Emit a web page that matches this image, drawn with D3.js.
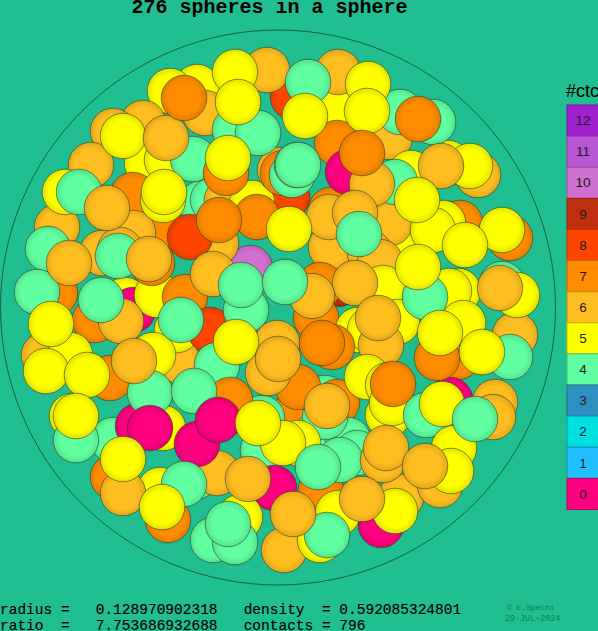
<!DOCTYPE html>
<html><head><meta charset="utf-8"><script src="https://cdn.jsdelivr.net/npm/d3@7"></script>
<style>html,body{margin:0;padding:0;background:#20be90;overflow:hidden}svg{display:block}</style></head>
<body><svg id="c" width="598" height="631"></svg>
<script>
const titleText="276 spheres in a sphere";
const footerLines=["radius =   0.128970902318   density  = 0.592085324801","ratio  =   7.753686932688   contacts = 796"];
const creditLines=["© E.Specht","29-JUL-2024"];
const legendTitle="#ctc";
const contactLevels=[12,11,10,9,8,7,6,5,4,3,2,1,0];
const contactColors=["#a020d0","#ba55d3","#d070d0","#c03010","#ff4500","#ff8c00","#ffbe20","#ffff00","#60ffa0","#2e90c0","#00e0e0","#20bfff","#ff0080"];
// rows: x, y, contacts -- ordered far to near
const backLayer=[
[338,284,9],[250,268,10],[287,197,8],[293,97,8],[335,107,5],[197,87,5],[170,91,5],[267,70,6],[338,72,6],[205,113,6],[143,123,6],[235,130,4],
[113,131,6],[390,137,6],[448,163,5],[411,173,5],[478,175,6],[147,163,5],[167,160,5],[91,165,6],[133,195,7],[57,227,6],[65,192,5],
[163,230,7],[133,233,6],[102,253,6],[120,250,6],[202,203,4],[213,200,4],[227,200,6],[252,203,5],[280,170,6],[283,173,7],[331,210,7],
[460,223,7],[443,223,5],[510,238,7],[400,253,5],[390,223,6],[331,247,6],[370,253,6],[380,262,6],[458,291,5],[449,291,5],[502,284,4],[320,285,7],[383,288,5],
[55,293,7],[95,320,7],[125,300,5],[133,310,0],[157,295,5],[185,297,7],[44,355,6],[70,355,5],[316,318,7],[358,330,5],[370,330,5],[397,322,5],
[515,335,6],[458,357,7],[463,323,5],[177,360,6],[325,398,4],[337,402,7],[297,410,7],[298,387,7],[72,416,5],[113,440,4],[138,426,0],[163,428,5],[318,433,4],[348,440,4],[263,450,4],[262,418,4],
[113,477,7],[160,490,5],[195,477,4],[217,473,6],[274,488,0],[168,520,7],[240,517,5],[213,540,4],[235,542,4],[284,550,6],[320,540,5],[321,490,7],[357,453,4],[338,513,5],[401,497,6],[440,485,6],[381,525,0],[450,400,0],[495,402,6]
];
const midLayer=[
[193,159,4],[258,133,4],[226,173,7],[292,175,4],[297,165,4],[337,143,7],[348,172,0],[395,182,4],[372,184,6],[400,112,4],[433,122,4],[308,82,4],[235,72,5],[368,84,5],
[433,230,5],[329,217,6],[355,213,6],[216,243,6],[190,237,8],[257,217,7],[163,200,5],[152,263,7],[48,249,4],[37,292,4],[118,256,4],[149,259,6],[79,192,4],[164,192,5],
[425,297,4],[517,295,5],[332,347,7],[355,283,6],[381,345,6],[437,358,7],[510,357,4],[213,274,6],[177,330,5],[210,330,8],[121,321,6],
[217,365,4],[246,310,4],[277,343,6],[268,373,6],[110,378,7],[153,355,5],[150,393,4],[230,400,7],[194,391,4],[367,377,5],[388,385,5],[388,415,5],[392,403,5],[426,415,4],[325,417,4],[298,443,5],[340,460,4],
[493,417,6],[454,448,5],[451,471,5],[383,460,6],[76,440,4],[197,444,0],[218,420,0],[283,443,5],[184,484,4],[123,493,6],[228,524,4],[327,535,4],[395,511,5]
];
const frontLayer=[
[107,208,6],[69,263,6],[123,136,5],[166,138,6],[184,98,7],[238,102,5],[305,116,5],[367,111,5],[418,119,7],[362,153,7],[228,158,5],[298,165,4],[470,166,5],[441,166,6],[417,200,5],
[219,220,7],[289,229,5],[359,234,4],[502,230,5],[465,245,5],[418,267,5],[500,288,6],[312,296,6],[241,285,4],[285,282,4],[101,300,4],[181,320,4],[51,324,5],[236,342,5],[378,318,6],[440,333,5],[482,352,5],
[322,343,7],[278,359,6],[46,371,5],[87,375,5],[134,361,6],[76,416,5],[150,428,0],[258,423,5],[393,384,7],[442,404,5],[475,419,4],[327,406,6],[386,448,6],[425,466,6],[318,467,4],[123,459,5],
[248,479,6],[162,507,5],[293,514,6],[362,499,6]
];
const spheres=[...backLayer,...midLayer,...frontLayer];

const svg=d3.select("#c");
const x=d3.scaleLinear().domain([0,556]).range([0,556]);
const y=d3.scaleLinear().domain([30,585]).range([30,585]);
const rScale=d3.scaleLinear().domain([0,277.5]).range([0,277.5]);
const color=d3.scaleOrdinal(contactLevels,contactColors);
const rowY=d3.scaleBand().domain(contactLevels).range([105,509.5]);
const sphereR=22.8;

svg.append("rect").attr("width",598).attr("height",631).attr("fill","#20be90");
const defs=svg.append("defs");
contactLevels.forEach(c=>{
  const g=defs.append("radialGradient").attr("id","g"+c).attr("cx","50%").attr("cy","50%").attr("r","50%");
  const base=d3.color(color(c));
  g.append("stop").attr("offset","0%").attr("stop-color",base.formatHex());
  g.append("stop").attr("offset","70%").attr("stop-color",base.formatHex());
  g.append("stop").attr("offset","100%").attr("stop-color",base.darker(0.35).formatHex());
});
svg.append("circle").attr("cx",x(278)).attr("cy",y(307.5)).attr("r",rScale(277.5)).attr("fill","none").attr("stroke","#155f4a").attr("stroke-width",1);
svg.append("g").selectAll("circle").data(spheres).join("circle")
  .attr("cx",d=>x(d[0])).attr("cy",d=>y(d[1])).attr("r",rScale(sphereR))
  .attr("fill",d=>`url(#g${d[2]})`).attr("stroke","#2a3a20").attr("stroke-opacity",0.8).attr("stroke-width",0.7);

svg.append("text").attr("x",269.5).attr("y",13).attr("text-anchor","middle").attr("font-family","Liberation Mono").attr("font-weight","bold").attr("font-size",20).attr("fill","#000").text(titleText);

const leg=svg.append("g");
leg.selectAll("rect").data(contactLevels).join("rect")
  .attr("x",567).attr("y",d=>rowY(d)).attr("width",32).attr("height",rowY.bandwidth())
  .attr("fill",d=>color(d)).attr("stroke",d=>d3.color(color(d)).darker(0.8).formatHex()).attr("stroke-width",1);
leg.selectAll("text").data(contactLevels).join("text")
  .attr("x",583).attr("y",d=>rowY(d)+rowY.bandwidth()/2+4.7).attr("text-anchor","middle")
  .attr("font-family","Liberation Sans").attr("font-size",13.5).attr("fill","#1a1a1a").text(d=>d);
svg.append("text").attr("x",566).attr("y",97).attr("font-family","Liberation Sans").attr("font-size",18).attr("fill","#000").text(legendTitle);

svg.append("g").selectAll("text").data(footerLines).join("text")
  .attr("x",0).attr("y",(d,i)=>614+i*16).style("white-space","pre")
  .attr("font-family","Liberation Mono").attr("font-size",14.5).attr("stroke","#000").attr("stroke-width",0.15).attr("fill","#000").text(d=>d);
svg.append("g").selectAll("text").data(creditLines).join("text")
  .attr("x",(d,i)=>i?505:507).attr("y",(d,i)=>610+i*10.5)
  .attr("font-family","Liberation Mono").attr("font-size",(d,i)=>i?8.4:8).attr("fill","#127a5c").text(d=>d);
</script></body></html>
